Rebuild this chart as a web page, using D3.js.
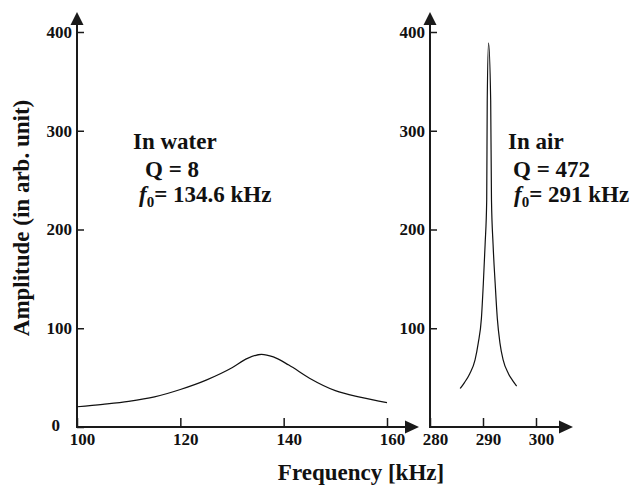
<!DOCTYPE html>
<html>
<head>
<meta charset="utf-8">
<script src="https://cdn.jsdelivr.net/npm/d3@7"></script>
<style>
  body { margin: 0; background: #fff; }
  svg text { font-family: "Liberation Serif", "Times New Roman", Times, "DejaVu Serif", serif; font-weight: bold; fill: #111; }
</style>
</head>
<body>
<div id="chart"></div>
<script>
// resonance curve in water (left panel)
var waterFreq = [100, 105, 110, 115, 120, 125, 130, 133, 135.7, 138, 141, 145, 150, 155, 160];
var waterAmp  = [20.5, 23, 26, 30.5, 38, 47.5, 60, 69.5, 73.6, 71, 62.7, 49.4, 36.8, 30, 24.6];

// resonance curve in air (right panel)
var airFreq = [285.7, 286.5, 287.5, 288.5, 289.1, 289.7, 290.06, 290.4, 290.7, 290.8, 291.05, 291.45, 291.6, 291.9, 292.3, 292.7, 293.2, 293.8, 294.8, 295.6, 296.35];
var airAmp  = [39, 45, 54, 68, 85, 110, 145, 185, 230, 331, 389, 331, 230, 185, 145, 110, 85, 68, 54, 47, 41.5];

var ampTicks = [0, 100, 200, 300, 400];
var waterTicks = [100, 120, 140, 160];
var airTicks = [280, 290, 300];

var width = 635, height = 486;
var serif = "\"Liberation Serif\", \"Times New Roman\", Times, \"DejaVu Serif\", serif";

var svg = d3.select("#chart").append("svg")
    .attr("width", width)
    .attr("height", height);

var y = d3.scaleLinear().domain([0, 400]).range([427, 32]);
var xL = d3.scaleLinear().domain([100, 160]).range([77, 387]);
var xR = d3.scaleLinear().domain([280, 300]).range([430, 536]);

var axisColor = "#1a1a1a";

function arrowUp(x, tip) {
    svg.append("path")
        .attr("d", "M" + x + "," + tip + "L" + (x - 6.5) + "," + (tip + 13) + "L" + (x + 6.5) + "," + (tip + 13) + "Z")
        .attr("fill", axisColor);
}
function arrowRight(tip, yy) {
    svg.append("path")
        .attr("d", "M" + tip + "," + yy + "L" + (tip - 14) + "," + (yy - 6.5) + "L" + (tip - 14) + "," + (yy + 6.5) + "Z")
        .attr("fill", axisColor);
}

function panel(x, xTicks, yTicks, xEnd) {
    var x0 = x.range()[0];
    var y0 = y(0);

    // axis lines
    svg.append("line")
        .attr("x1", x0).attr("x2", x0)
        .attr("y1", y0).attr("y2", 20)
        .attr("stroke", axisColor).attr("stroke-width", 2);
    svg.append("line")
        .attr("x1", x0 - 1).attr("x2", xEnd - 8)
        .attr("y1", y0).attr("y2", y0)
        .attr("stroke", axisColor).attr("stroke-width", 2);
    arrowUp(x0, 12);
    arrowRight(xEnd, y0);

    var gy = svg.append("g")
        .attr("transform", "translate(" + x0 + ",0)")
        .call(d3.axisLeft(y).tickValues(yTicks).tickSizeInner(-7).tickSizeOuter(0).tickPadding(5));
    var gx = svg.append("g")
        .attr("transform", "translate(0," + y0 + ")")
        .call(d3.axisBottom(x).tickValues(xTicks).tickSizeInner(-9).tickSizeOuter(0).tickPadding(5));

    [gy, gx].forEach(function(g) {
        g.attr("font-family", null).attr("font-size", null);
        g.select(".domain").remove();
        g.selectAll("line").attr("stroke", axisColor).attr("stroke-width", 1.5);
        g.selectAll("text")
            .attr("fill", "#111")
            .style("font-family", serif)
            .style("font-weight", "bold")
            .style("font-size", "17px");
    });
    gx.selectAll("text").attr("dx", 5).attr("dy", "0.75em");
    gy.selectAll(".tick").filter(function(d) { return d === 0; })
        .select("text").attr("dx", -12).attr("dy", "0.2em");
}

panel(xL, waterTicks, ampTicks, 419);
panel(xR, airTicks, ampTicks.slice(1), 573);

// curves
var lineW = d3.line()
    .x(function(d, i) { return xL(waterFreq[i]); })
    .y(function(d) { return y(d); })
    .curve(d3.curveMonotoneX);
svg.append("path")
    .attr("d", lineW(waterAmp))
    .attr("fill", "none").attr("stroke", "#111").attr("stroke-width", 1.2);

var lineA = d3.line()
    .x(function(d, i) { return xR(airFreq[i]); })
    .y(function(d) { return y(d); })
    .curve(d3.curveMonotoneX);
svg.append("path")
    .attr("d", lineA(airAmp))
    .attr("fill", "none").attr("stroke", "#111").attr("stroke-width", 1.2);

// annotations
function note(xPos, lines) {
    svg.append("text").attr("x", xPos).attr("y", 149).style("font-size", "23px").text(lines[0]);
    svg.append("text").attr("x", xPos + lines[3]).attr("y", 177).style("font-size", "23px").text(lines[1]);
    var t = svg.append("text").attr("x", xPos + 6).attr("y", 202).style("font-size", "23px");
    t.append("tspan").style("font-style", "italic").text("f");
    t.append("tspan").attr("dy", 5).style("font-size", "15px").text("0");
    t.append("tspan").attr("dy", -5).text("= " + lines[2]);
}
note(133, ["In water", "Q = 8", "134.6 kHz", 12]);
note(508, ["In air", "Q = 472", "291 kHz", 5]);

// axis titles
svg.append("text")
    .attr("x", 361).attr("y", 480)
    .attr("text-anchor", "middle")
    .style("font-size", "23px")
    .text("Frequency [kHz]");
svg.append("text")
    .attr("transform", "translate(28.5,218) rotate(-90)")
    .attr("text-anchor", "middle")
    .style("font-size", "23px")
    .text("Amplitude (in arb. unit)");
</script>
</body>
</html>
